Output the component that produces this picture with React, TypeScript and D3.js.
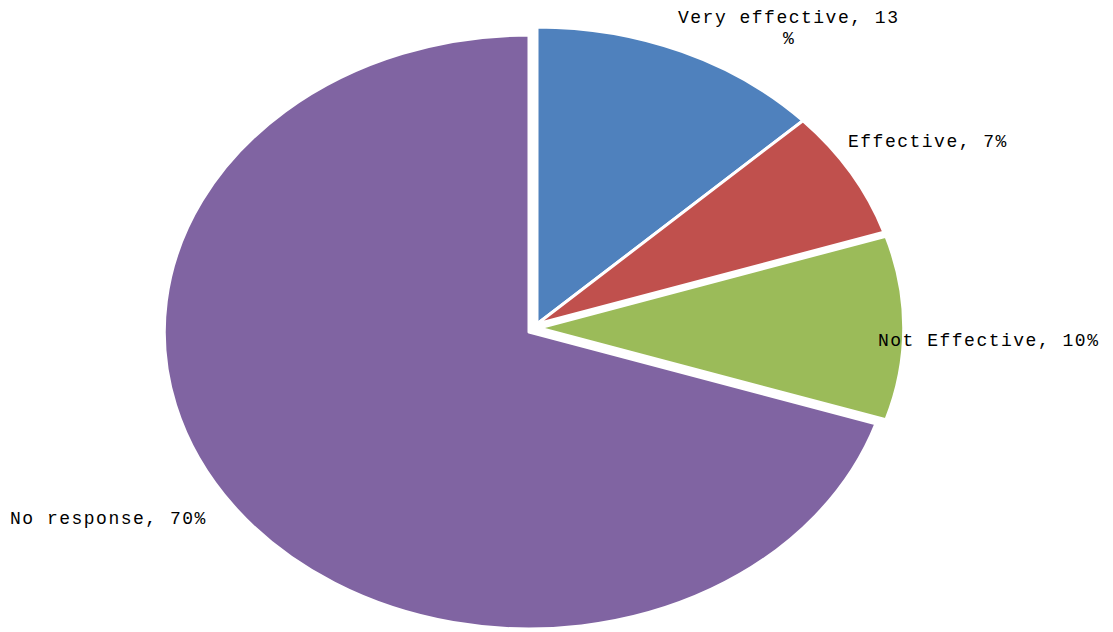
import { useRef, useEffect } from 'react'
import * as d3 from 'd3'

const categories = ['Very effective', 'Effective', 'Not Effective', 'No response']
const values = [13, 7, 10, 70]
const colors = ['#4F81BD', '#C0504D', '#9BBB59', '#8064A2']
// label text, split where the original wraps
const labelLines = [['Very effective, 13', '%'], ['Effective, 7%'], ['Not Effective, 10%'], ['No response, 70%']]

const WIDTH = 1113
const HEIGHT = 632

export default function App() {
  const svgRef = useRef<SVGSVGElement>(null)

  useEffect(() => {
    if (!svgRef.current) return
    const svg = d3.select(svgRef.current)
    svg.selectAll('*').remove()

    const radius = 297
    const sx = 1.228
    // exploded slice centers
    const centers = [
      [537, 324],
      [537, 324],
      [539, 328],
      [529, 332],
    ]

    const pie = d3
      .pie<number>()
      .sort(null)
      .value((d) => d)
    const arcs = pie(values)
    const arc = d3.arc<d3.PieArcDatum<number>>().innerRadius(0).outerRadius(radius)

    svg
      .selectAll('path.slice')
      .data(arcs)
      .join('path')
      .attr('class', 'slice')
      .attr('transform', (_d, i) => `translate(${centers[i][0]},${centers[i][1]}) scale(${sx},1)`)
      .attr('d', arc)
      .attr('fill', (_d, i) => colors[i])
      .attr('stroke', '#fff')
      .attr('stroke-width', 3)
      .attr('stroke-linejoin', 'round')
      .attr('vector-effect', 'non-scaling-stroke')

    // Labels
    const labelPos = [
      [678, 23],
      [848, 147],
      [878, 346],
      [10, 524],
    ]
    categories.forEach((_c, i) => {
      const t = svg
        .append('text')
        .attr('x', labelPos[i][0])
        .attr('y', labelPos[i][1])
        .attr('font-family', '"Liberation Mono", "DejaVu Sans Mono", monospace')
        .attr('font-size', 18)
        .attr('letter-spacing', 1.5)
        .attr('fill', '#000')
      labelLines[i].forEach((line, j) => {
        if (j === 0) {
          t.append('tspan').attr('x', labelPos[i][0]).text(line)
        } else {
          t.append('tspan').attr('x', 783).attr('dy', 21).text(line)
        }
      })
    })
  }, [])

  return (
    <div style={{ position: 'fixed', left: 0, top: 0, background: '#fff' }}>
      <svg ref={svgRef} width={WIDTH} height={HEIGHT} />
    </div>
  )
}
